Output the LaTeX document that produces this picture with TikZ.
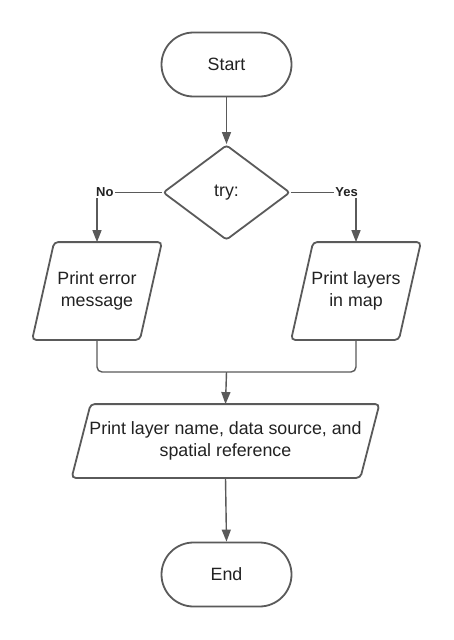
\documentclass[tikz,border=0pt]{standalone}
\usepackage{fontspec}
\setmainfont{Liberation Sans}
\usetikzlibrary{shapes.geometric,arrows.meta}
\definecolor{edge}{HTML}{5A5A5A}
\definecolor{txt}{HTML}{222222}
\begin{document}
\begin{tikzpicture}[x=1pt,y=-1pt,
 box/.style={draw=edge, line width=1.8pt, text=txt, font=\fontsize{17.8}{21.5}\selectfont, align=center, inner sep=0pt},
 term/.style={box, rectangle, rounded corners=32pt, minimum width=130pt, minimum height=64pt},
 dec/.style={box, diamond, rounded corners=3pt, minimum width=127pt, minimum height=95pt},
 io/.style={box, draw=none, rectangle, inner sep=0pt},
 iofr/.style={draw=edge, line width=1.8pt, rounded corners=4pt},
 conn/.style={draw=edge, line width=1.4pt},
 arr/.style={conn, -{Triangle[length=12pt,width=9pt]}},
 lbl/.style={font=\bfseries\fontsize{13}{15}\selectfont, text=txt, fill=white, inner sep=1pt}
]
\path[use as bounding box, fill=white] (0,0) rectangle (453,640);

\node[term] (start) at (226.5,64.5) {Start};
\node[dec] (try) at (226.5,192.5) {try:};
\node[io, minimum width=106pt, minimum height=96pt] (err) at (97,291) {Print error\\message};
\node[io, minimum width=106pt, minimum height=96pt] (lay) at (356,291) {Print layers\\in map};
\node[io, minimum width=287pt, minimum height=72pt] (info) at (225.5,441) {Print layer name, data source, and\\spatial reference};
\node[term] (end) at (226.5,574.5) {End};

\draw[iofr] ([xshift=11pt]err.north west) -- ([xshift=11pt]err.north east) -- ([xshift=-11pt]err.south east) -- ([xshift=-11pt]err.south west) -- cycle;
\draw[iofr] ([xshift=11pt]lay.north west) -- ([xshift=11pt]lay.north east) -- ([xshift=-11pt]lay.south east) -- ([xshift=-11pt]lay.south west) -- cycle;
\draw[iofr] ([xshift=9.5pt]info.north west) -- ([xshift=9.5pt]info.north east) -- ([xshift=-9.5pt]info.south east) -- ([xshift=-9.5pt]info.south west) -- cycle;

\coordinate (nc) at (97,192.5);
\coordinate (yc) at (356,192.5);
\coordinate (m) at (226.5,372);

\draw[arr] (start) -- (try);
\draw[conn] (try.west) -- (nc);
\draw[arr] (nc) -- (err.north);
\draw[conn] (try.east) -- (yc);
\draw[arr] (yc) -- (lay.north);
\node[lbl, anchor=west] (no) at (95,192.5) {No};
\node[lbl, anchor=east] (yes) at (359,192.5) {Yes};

\draw[conn, rounded corners=5pt] (err.south) |- (m);
\draw[conn, rounded corners=5pt] (lay.south) |- (m);
\draw[arr] (m) -- (info.north);
\draw[arr] (info.south) -- (end.north);
\end{tikzpicture}
\end{document}
